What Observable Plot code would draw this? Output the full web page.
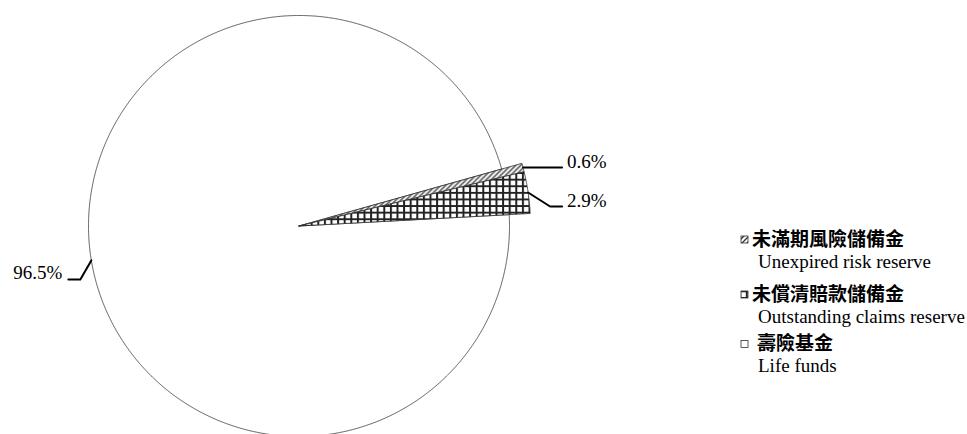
<!DOCTYPE html>
<html><head><meta charset="utf-8">
<script src="https://cdn.jsdelivr.net/npm/d3@7"></script>
<script src="https://cdn.jsdelivr.net/npm/@observablehq/plot@0.6"></script>
<style>
body{margin:0;background:#fff;}
#wrap{position:relative;width:967px;height:434px;overflow:hidden;background:#fff;}
</style></head><body><div id="wrap"></div>
<script>
// ---- data ----
const categoriesZh = ["未滿期風險儲備金", "未償清賠款儲備金", "壽險基金"];
const categoriesEn = ["Unexpired risk reserve", "Outstanding claims reserve", "Life funds"];
const shares = [0.6, 2.9, 96.5];
const valueLabels = ["0.6%", "2.9%", "96.5%"];

// ---- styling / layout ----
const sliceFill = ["url(#hatch)", "url(#grid)", "#ffffff"];
const sliceRadius = [1.1, 1.1, 1.0];
const startDeg = 74.3;
const pxPerUnit = 210.5;
const leaderElbow = [[0, 0], [22, 14], [-11, 19]];
const leaderEnd = [[39, 0], [34, 14], [-23, 19]];
const labelDy = [-6, -6, -6];

const arcs = d3.pie().sort(null).value(d => d)
  .startAngle(startDeg * Math.PI / 180)
  .endAngle(startDeg * Math.PI / 180 + 2 * Math.PI)(shares);

const slices = [];
[2, 0, 1].forEach(i => {
  const a = arcs[i], r = sliceRadius[i];
  const n = Math.max(4, Math.ceil((a.endAngle - a.startAngle) / 0.004));
  slices.push({key: i, x: 0, y: 0, fill: sliceFill[i]});
  for (let k = 0; k <= n; k++) {
    const t = a.startAngle + (a.endAngle - a.startAngle) * k / n;
    slices.push({key: i, x: r * Math.sin(t), y: r * Math.cos(t), fill: sliceFill[i]});
  }
  slices.push({key: i, x: 0, y: 0, fill: sliceFill[i]});
});

const leaders = [], labels = [];
arcs.forEach((a, i) => {
  const m = (a.startAngle + a.endAngle) / 2, r = sliceRadius[i];
  const ax = r * Math.sin(m), ay = r * Math.cos(m);
  const pts = [[0, 0], leaderElbow[i], leaderEnd[i]];
  pts.forEach(p => leaders.push({key: i, x: ax + p[0] / pxPerUnit, y: ay - p[1] / pxPerUnit}));
  const e = leaderEnd[i];
  labels.push({text: valueLabels[i], x: ax + e[0] / pxPerUnit, y: ay - e[1] / pxPerUnit,
    side: e[0] >= 0 ? 1 : -1});
});

const chart = Plot.plot({
  width: 967, height: 434, margin: 0,
  x: {domain: [-1, 1], range: [88, 509], axis: null},
  y: {domain: [-1, 1], range: [436, 15], axis: null},
  color: {type: "identity"},
  style: {background: "#fff"},
  marks: [
    Plot.line(slices, {x: "x", y: "y", z: "key", fill: "fill", stroke: "#333", strokeWidth: 0.8, strokeLinejoin: "round"}),
    Plot.line(leaders, {x: "x", y: "y", z: "key", stroke: "#000", strokeWidth: 2}),
    Plot.text(labels.filter(d => d.side > 0), {x: "x", y: "y", text: "text", dx: 5, dy: labelDy[0], textAnchor: "start", fontSize: 19, fontFamily: "Liberation Serif", fill: "#000"}),
    Plot.text(labels.filter(d => d.side < 0), {x: "x", y: "y", text: "text", dx: -6, dy: labelDy[2], textAnchor: "end", fontSize: 19, fontFamily: "Liberation Serif", fill: "#000"})
  ]
});

const svg = d3.select(chart);
const defs = svg.insert("defs", ":first-child");
const hatch = defs.append("pattern").attr("id", "hatch").attr("patternUnits", "userSpaceOnUse")
  .attr("width", 5).attr("height", 5);
hatch.append("rect").attr("width", 5).attr("height", 5).attr("fill", "#fff");
hatch.append("path").attr("d", "M-1,1 l2,-2 M0,5 l5,-5 M4,6 l2,-2").attr("stroke", "#333").attr("stroke-width", 1.3);
const grid = defs.append("pattern").attr("id", "grid").attr("patternUnits", "userSpaceOnUse")
  .attr("width", 6.6).attr("height", 6.6);
grid.append("rect").attr("width", 6.6).attr("height", 6.6).attr("fill", "#fff");
grid.append("path").attr("d", "M1,0 V6.6 M0,1 H6.6").attr("stroke", "#222").attr("stroke-width", 2);

// legend
const legZhBase = [246, 301, 350];
const legEnBase = [268, 323, 372];
const legSwCy = [239.5, 294.5, 344];
const legZhX = [752, 752, 757];
const lg = svg.append("g").attr("text-anchor", "start");
categoriesZh.forEach((c, i) => {
  lg.append("rect").attr("x", 741).attr("y", legSwCy[i] - 3.5).attr("width", 7).attr("height", 7)
    .attr("fill", sliceFill[i]).attr("stroke", "#333").attr("stroke-width", 0.8);
  lg.append("text").attr("x", legZhX[i]).attr("y", legZhBase[i]).text(c).attr("text-anchor", "start")
    .attr("font-family", "'Noto Sans CJK TC', sans-serif").attr("font-weight", 700).attr("font-size", 19).attr("fill", "#000");
  lg.append("text").attr("x", 758).attr("y", legEnBase[i]).text(categoriesEn[i]).attr("text-anchor", "start")
    .attr("font-family", "'Liberation Serif', serif").attr("font-size", 19).attr("fill", "#000");
});

document.getElementById("wrap").appendChild(chart);
</script>
</body></html>
